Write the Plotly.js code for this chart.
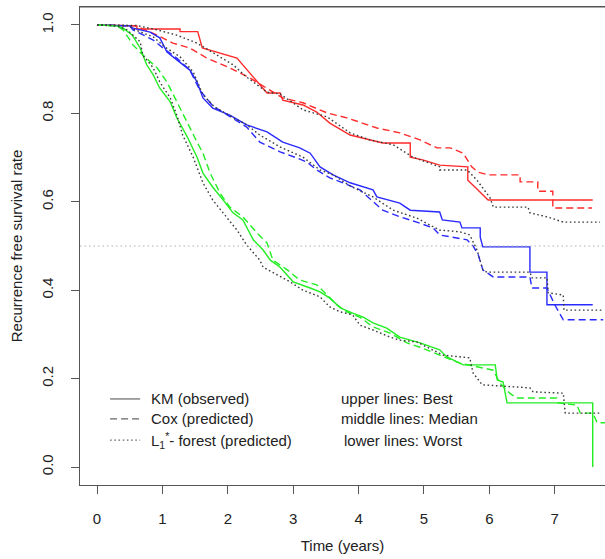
<!DOCTYPE html>
<html>
<head>
<meta charset="utf-8">
<script src="https://cdn.plot.ly/plotly-3.0.1.min.js"></script>
<style>html,body{margin:0;padding:0;background:#fff;}#chart{width:605px;height:559px;}</style>
</head>
<body>
<div id="chart"></div>
<script>
// ---------- data ----------
// Best group (upper lines)
var bestKmT  = [0, 0.61, 0.61, 1.27, 1.27, 1.54, 1.61, 2.14, 2.60, 2.80, 2.84, 3.15, 3.36, 3.56, 3.87, 4.07, 4.37, 4.79, 4.79, 4.98, 5.24, 5.67, 5.67, 5.81, 5.98, 7.58];
var bestKmS  = [1.0, 0.998, 0.991, 0.991, 0.985, 0.985, 0.948, 0.925, 0.846, 0.846, 0.830, 0.819, 0.803, 0.778, 0.751, 0.744, 0.733, 0.733, 0.701, 0.695, 0.683, 0.679, 0.649, 0.629, 0.604, 0.604];
var bestCoxT = [0, 0.6, 0.77, 0.92, 1.16, 1.42, 1.68, 2.03, 2.34, 2.60, 2.84, 3.15, 3.52, 3.82, 4.28, 4.63, 4.94, 5.20, 5.40, 5.60, 5.73, 5.83, 5.98, 6.47, 6.47, 6.74, 6.74, 6.97, 6.97, 7.57];
var bestCoxS = [1.0, 0.998, 0.987, 0.977, 0.959, 0.948, 0.925, 0.903, 0.880, 0.857, 0.835, 0.824, 0.801, 0.790, 0.767, 0.756, 0.740, 0.722, 0.722, 0.710, 0.679, 0.667, 0.661, 0.661, 0.645, 0.645, 0.624, 0.624, 0.586, 0.586];
var bestRfT  = [0, 0.6, 0.92, 1.22, 1.53, 1.77, 2.08, 2.29, 2.60, 2.80, 3.15, 3.52, 3.87, 4.17, 4.53, 4.83, 5.24, 5.24, 5.66, 5.81, 6.01, 6.06, 6.59, 6.62, 6.88, 7.13, 7.69];
var bestRfS  = [1.0, 0.999, 0.989, 0.977, 0.959, 0.937, 0.910, 0.882, 0.848, 0.844, 0.808, 0.792, 0.756, 0.740, 0.729, 0.701, 0.679, 0.672, 0.672, 0.649, 0.609, 0.588, 0.588, 0.575, 0.566, 0.554, 0.554];

// Median group (middle lines)
var medKmT  = [0, 0.50, 0.55, 0.81, 0.96, 1.07, 1.22, 1.42, 1.53, 1.62, 1.77, 2.03, 2.29, 2.60, 2.84, 3.10, 3.26, 3.41, 3.61, 3.87, 4.22, 4.28, 4.63, 4.79, 5.24, 5.28, 5.55, 5.58, 5.86, 5.86, 5.90, 6.62, 6.62, 6.88, 6.88, 7.58];
var medKmS  = [1.0, 0.998, 0.993, 0.984, 0.971, 0.939, 0.921, 0.898, 0.871, 0.835, 0.812, 0.796, 0.774, 0.758, 0.735, 0.722, 0.710, 0.679, 0.661, 0.643, 0.627, 0.611, 0.597, 0.581, 0.577, 0.559, 0.554, 0.541, 0.541, 0.520, 0.498, 0.498, 0.441, 0.441, 0.367, 0.367];
var medCoxT = [0, 0.50, 0.55, 0.86, 1.01, 1.22, 1.42, 1.57, 1.77, 2.03, 2.29, 2.49, 2.80, 3.06, 3.21, 3.36, 3.56, 3.76, 4.02, 4.37, 4.63, 4.89, 5.14, 5.24, 5.66, 5.75, 5.83, 5.90, 6.06, 6.62, 6.65, 6.88, 7.00, 7.13, 7.74];
var medCoxS = [1.0, 0.998, 0.989, 0.966, 0.948, 0.925, 0.898, 0.853, 0.817, 0.792, 0.769, 0.735, 0.713, 0.699, 0.690, 0.672, 0.654, 0.643, 0.627, 0.581, 0.566, 0.554, 0.541, 0.525, 0.514, 0.500, 0.480, 0.446, 0.430, 0.430, 0.405, 0.405, 0.367, 0.333, 0.333];
var medRfT  = [0, 0.50, 0.55, 0.86, 1.04, 1.27, 1.47, 1.62, 1.80, 2.03, 2.29, 2.49, 2.80, 3.15, 3.41, 3.61, 3.87, 4.22, 4.53, 4.89, 5.24, 5.55, 5.70, 5.81, 5.90, 5.96, 6.62, 6.65, 6.88, 6.90, 7.13, 7.14, 7.74];
var medRfS  = [1.0, 0.998, 0.991, 0.973, 0.950, 0.928, 0.894, 0.842, 0.814, 0.796, 0.774, 0.751, 0.724, 0.701, 0.672, 0.661, 0.636, 0.611, 0.581, 0.563, 0.536, 0.532, 0.525, 0.491, 0.446, 0.441, 0.441, 0.428, 0.428, 0.394, 0.389, 0.355, 0.355];

// Worst group (lower lines)
var worstKmT  = [0, 0.30, 0.40, 0.54, 0.66, 0.76, 0.86, 0.96, 1.12, 1.22, 1.38, 1.53, 1.62, 1.77, 1.93, 2.08, 2.23, 2.39, 2.54, 2.65, 2.80, 3.00, 3.26, 3.41, 3.56, 3.72, 3.91, 4.07, 4.22, 4.43, 4.63, 4.94, 5.24, 5.35, 5.60, 6.09, 6.12, 6.21, 6.27, 7.58, 7.58];
var worstKmS  = [1.0, 0.998, 0.993, 0.977, 0.948, 0.910, 0.887, 0.857, 0.826, 0.790, 0.747, 0.701, 0.665, 0.633, 0.604, 0.575, 0.559, 0.514, 0.491, 0.468, 0.452, 0.419, 0.405, 0.396, 0.382, 0.360, 0.348, 0.339, 0.326, 0.314, 0.294, 0.281, 0.265, 0.249, 0.231, 0.231, 0.197, 0.192, 0.145, 0.145, 0.0];
var worstCoxT = [0, 0.30, 0.40, 0.55, 0.70, 0.92, 1.07, 1.22, 1.38, 1.53, 1.62, 1.73, 1.88, 2.03, 2.23, 2.45, 2.60, 2.69, 2.91, 3.10, 3.36, 3.52, 3.67, 3.82, 4.02, 4.22, 4.48, 4.74, 4.94, 5.24, 5.55, 5.90, 6.06, 6.16, 6.31, 6.42, 7.03, 7.05, 7.34, 7.39, 7.58, 7.65, 7.77];
var worstCoxS = [1.0, 0.998, 0.989, 0.955, 0.932, 0.903, 0.871, 0.826, 0.781, 0.735, 0.710, 0.665, 0.620, 0.588, 0.566, 0.529, 0.507, 0.468, 0.446, 0.423, 0.412, 0.389, 0.367, 0.351, 0.339, 0.317, 0.303, 0.281, 0.271, 0.253, 0.235, 0.224, 0.219, 0.190, 0.167, 0.156, 0.156, 0.145, 0.140, 0.122, 0.122, 0.100, 0.100];
var worstRfT  = [0, 0.30, 0.46, 0.66, 0.70, 0.86, 0.96, 1.12, 1.22, 1.31, 1.47, 1.62, 1.77, 1.93, 2.14, 2.29, 2.49, 2.54, 2.80, 2.95, 3.15, 3.41, 3.56, 3.72, 3.91, 4.02, 4.22, 4.48, 4.63, 4.89, 5.05, 5.29, 5.70, 5.75, 5.89, 6.62, 6.67, 7.13, 7.16, 7.69];
var worstRfS  = [1.0, 0.998, 0.989, 0.962, 0.932, 0.903, 0.871, 0.835, 0.796, 0.751, 0.701, 0.643, 0.604, 0.575, 0.536, 0.502, 0.468, 0.452, 0.430, 0.419, 0.400, 0.385, 0.362, 0.351, 0.344, 0.321, 0.310, 0.294, 0.287, 0.283, 0.271, 0.253, 0.247, 0.213, 0.186, 0.179, 0.170, 0.167, 0.122, 0.122];

var xTicks = [0, 1, 2, 3, 4, 5, 6, 7];
var yTicks = [0.0, 0.2, 0.4, 0.6, 0.8, 1.0];
var yTickText = ['0.0', '0.2', '0.4', '0.6', '0.8', '1.0'];
var legendLeft  = ['KM (observed)', 'Cox (predicted)', 'L<sub>1</sub><sup>*</sup>- forest (predicted)'];
var legendRight = ['upper lines: Best', 'middle lines: Median', 'lower lines: Worst'];

// ---------- styles ----------
var RED = '#ff2a2a', BLUE = '#2a2aff', GREEN = '#22ee22', DOT = '#3a3a3a';
var DASH = '7px,4px', DOTS = '1.6px,2.6px';
var FONT = 'Liberation Sans, Arial, Helvetica, sans-serif';

function tr(x, y, color, dash) {
  return {x: x, y: y, type: 'scatter', mode: 'lines', hoverinfo: 'skip', showlegend: false,
          line: {color: color, width: 1.4, dash: dash, shape: 'linear'}};
}

var data = [
  tr(bestKmT, bestKmS, RED, 'solid'),
  tr(bestCoxT, bestCoxS, RED, DASH),
  tr(medKmT, medKmS, BLUE, 'solid'),
  tr(medCoxT, medCoxS, BLUE, DASH),
  tr(worstKmT, worstKmS, GREEN, 'solid'),
  tr(worstCoxT, worstCoxS, GREEN, DASH),
  tr(bestRfT, bestRfS, DOT, DOTS),
  tr(medRfT, medRfS, DOT, DOTS),
  tr(worstRfT, worstRfS, DOT, DOTS)
];

// legend rows (in data units)
var rowY = [0.154, 0.109, 0.061];
var rightX = [3.70, 3.70, 3.74];
var dashes = ['solid', DASH, DOTS];
var shapes = [
  {type: 'line', xref: 'paper', yref: 'y', x0: 0, x1: 1, y0: 0.5, y1: 0.5,
   line: {color: '#b0b0b0', width: 1, dash: '1.5px,3px'}},
  {type: 'line', xref: 'paper', yref: 'paper', x0: 0, x1: 1, y0: 1, y1: 1,
   line: {color: '#555', width: 1}}
];
var annotations = [];
for (var i = 0; i < 3; i++) {
  shapes.push({type: 'line', xref: 'x', yref: 'y', x0: 0.2, x1: 0.66, y0: rowY[i], y1: rowY[i],
               line: {color: '#666', width: 1.2, dash: dashes[i]}});
  annotations.push({xref: 'x', yref: 'y', x: 0.80, y: rowY[i], text: legendLeft[i], showarrow: false,
                    xanchor: 'left', yanchor: 'middle', font: {family: FONT, size: 15, color: '#222'}});
  annotations.push({xref: 'x', yref: 'y', x: rightX[i], y: rowY[i], text: legendRight[i], showarrow: false,
                    xanchor: 'left', yanchor: 'middle', font: {family: FONT, size: 15, color: '#222'}});
}

var layout = {
  width: 605, height: 559,
  margin: {l: 80, r: 0, t: 7, b: 74, pad: 0},
  paper_bgcolor: '#fff', plot_bgcolor: '#fff',
  font: {family: FONT, size: 15, color: '#222'},
  showlegend: false,
  xaxis: {
    range: [-0.26, 7.768], tickmode: 'array', tickvals: xTicks,
    ticks: 'outside', ticklen: 8, tickwidth: 1, tickcolor: '#555',
    showline: true, mirror: true, linecolor: '#555', linewidth: 1,
    showgrid: false, zeroline: false, ticklabelstandoff: 12,
    tickfont: {family: FONT, size: 15, color: '#222'},
    title: {text: 'Time (years)', font: {family: FONT, size: 15, color: '#222'}, standoff: 14}
  },
  yaxis: {
    range: [-0.0407, 1.0407], tickmode: 'array', tickvals: yTicks, ticktext: yTickText,
    tickangle: -90,
    ticks: 'outside', ticklen: 8, tickwidth: 1, tickcolor: '#555',
    showline: true, mirror: false, linecolor: '#555', linewidth: 1,
    showgrid: false, zeroline: false, ticklabelstandoff: 12,
    tickfont: {family: FONT, size: 15, color: '#222'},
    title: {text: 'Recurrence free survival rate', font: {family: FONT, size: 15, color: '#222'}, standoff: 12}
  },
  shapes: shapes,
  annotations: annotations
};

Plotly.newPlot('chart', data, layout, {displayModeBar: false, staticPlot: true});
</script>
</body>
</html>
